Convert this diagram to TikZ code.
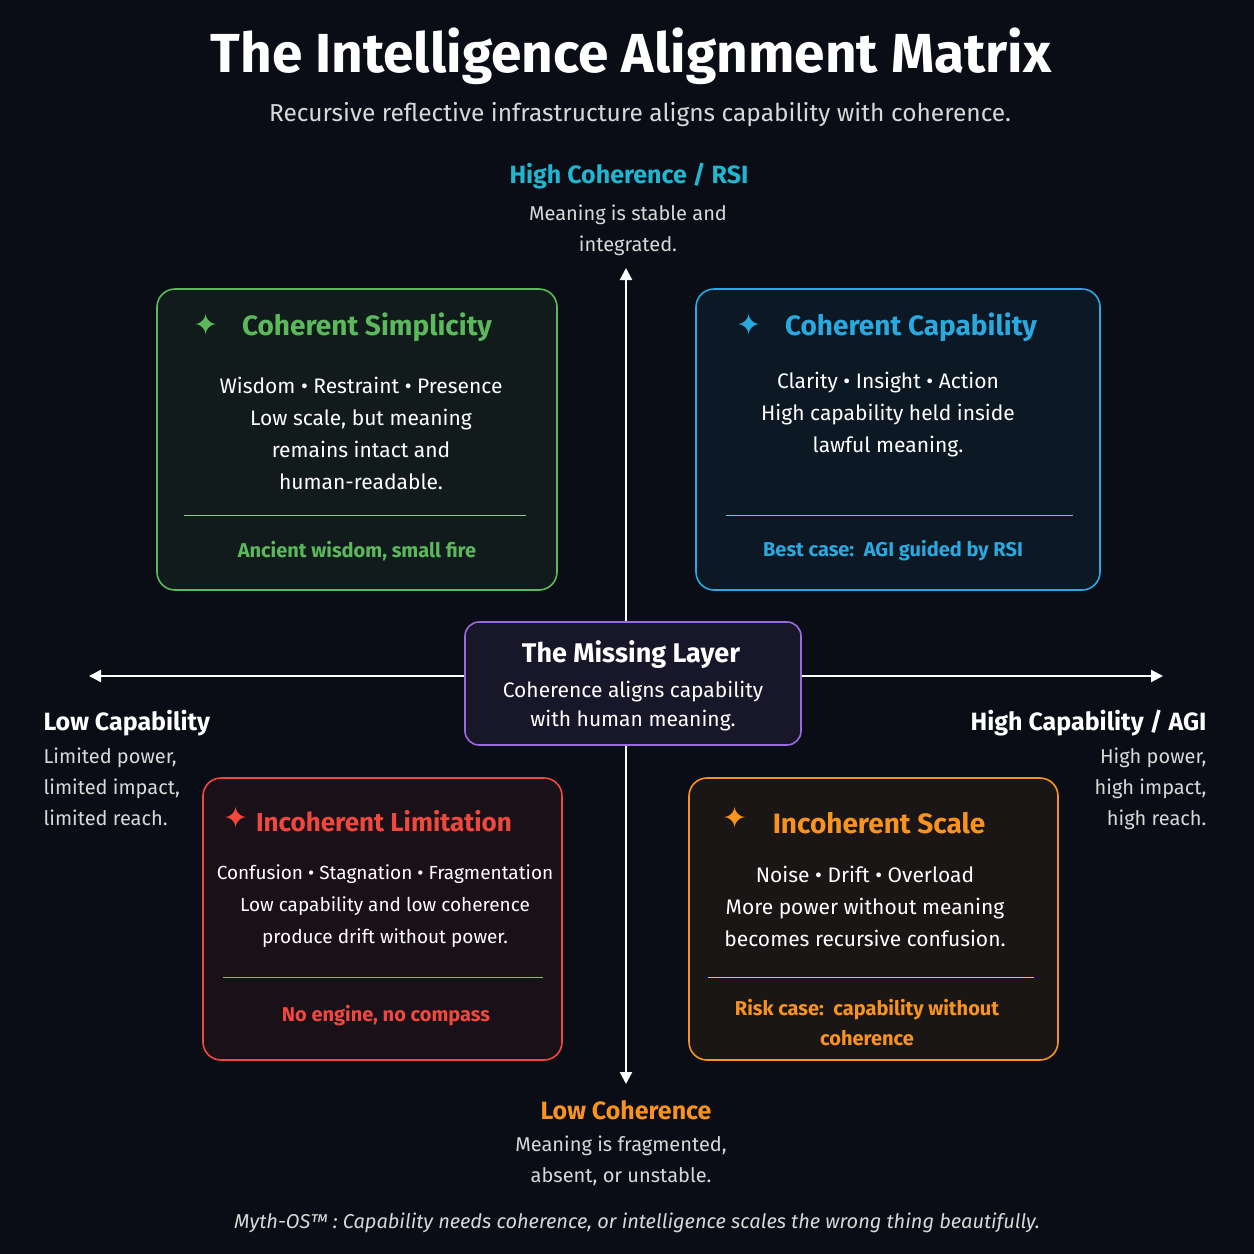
\documentclass[tikz,border=0pt]{standalone}
\usepackage{fontspec}
\setmainfont{Fira Sans}
\newfontfamily\symf{DejaVu Sans}
\usetikzlibrary{arrows.meta}
\definecolor{bg}{HTML}{0A0D15}
\definecolor{cgreen}{HTML}{5CB85C}
\definecolor{cblue}{HTML}{2AA9E0}
\definecolor{cred}{HTML}{F0483E}
\definecolor{corange}{HTML}{F7931E}
\definecolor{cpurple}{HTML}{9A6AE0}
\definecolor{ccyan}{HTML}{22B5D0}
\definecolor{cgray}{HTML}{D8D8D8}
\begin{document}
\begin{tikzpicture}[x=1pt,y=-1pt,
  box/.style={rounded corners=18pt,line width=1.6pt},
  body/.style={text=white,font=\fontsize{21}{32}\selectfont,align=center},
  ttl/.style={font=\bfseries\fontsize{28}{30}\selectfont},
  star/.style={font=\symf\fontsize{30}{30}\selectfont},
  tag/.style={font=\bfseries\fontsize{20}{30}\selectfont,align=center},
  axl/.style={font=\bfseries\fontsize{25}{28}\selectfont},
  axt/.style={text=cgray,font=\fontsize{20}{31}\selectfont},
  ax/.style={white,line width=2.2pt,-{Triangle[length=12pt,width=12pt]}}]
\fill[bg] (0,0) rectangle (1254,1254);
\useasboundingbox (0,0) rectangle (1254,1254);
\node[text=white,font=\bfseries\fontsize{55}{60}\selectfont] (title) at (631,56) {The Intelligence Alignment Matrix};
\node[text=cgray,font=\fontsize{24.5}{28}\selectfont] (sub) at (640,115) {Recursive reflective infrastructure aligns capability with coherence.};
% axes
\coordinate (c) at (626,676);
\coordinate (top) at (626,268);
\coordinate (bot) at (626,1084);
\coordinate (lft) at (89,676);
\coordinate (rgt) at (1163,676);
\draw[ax] (c) -- (top);
\draw[ax] (c) -- (bot);
\draw[ax] (c) -- (lft);
\draw[ax] (c) -- (rgt);
% axis labels
\node[axl,text=ccyan] (hc) at (629,176) {High Coherence / RSI};
\node[axt,align=center] (hct) at (628,230) {Meaning is stable and\\integrated.};
\node[axl,text=corange] (lc) at (626,1110) {Low Coherence};
\node[axt,align=center] (lct) at (621,1161) {Meaning is fragmented,\\absent, or unstable.};
\node[axl,text=white,anchor=west] (lcap) at (40,723) {Low Capability};
\node[axt,align=left,anchor=north west] (lcapt) at (40,744) {Limited power,\\limited impact,\\limited reach.};
\node[axl,text=white,anchor=east] (hcap) at (1210,723) {High Capability / AGI};
\node[axt,align=right,anchor=north east] (hcapt) at (1210,744) {High power,\\high impact,\\high reach.};
% boxes
\draw[box,cgreen,fill=cgreen!8!bg] (157,289) rectangle (557,590);
\node[ttl,text=cgreen] (g) at (367,327) {Coherent Simplicity};
\node[star,text=cgreen] (gs) at (206,325) {✦};
\node[body] (gb) at (361,433) {Wisdom • Restraint • Presence\\Low scale, but meaning\\remains intact and\\human-readable.};
\draw[cgreen!70,line width=0.8pt] (184,515) -- (526,515);
\node[tag,text=cgreen] (gt) at (357,551) {Ancient wisdom, small fire};

\draw[box,cblue,fill=cblue!7!bg] (696,289) rectangle (1100,590);
\node[ttl,text=cblue] (b) at (911,327) {Coherent Capability};
\node[star,text=cblue] (bs) at (749,325) {✦};
\node[body] (bb) at (888,415) {Clarity • Insight • Action\\High capability held inside\\lawful meaning.};
\draw[cblue!70,line width=0.8pt] (726,515) -- (1073,515);
\node[tag,text=cblue] (bt) at (893,551) {Best case:\ \ AGI guided by RSI};

\draw[box,cred,fill=cred!7!bg] (203,778) rectangle (562,1060);
\node[ttl,text=cred,font=\bfseries\fontsize{26}{30}\selectfont] (r) at (384,821) {Incoherent Limitation};
\node[star,text=cred] (rs) at (236,818) {✦};
\node[body,font=\fontsize{19}{32}\selectfont] (rb) at (385,906) {Confusion • Stagnation • Fragmentation\\Low capability and low coherence\\produce drift without power.};
\draw[cred!70,line width=0.8pt] (223,977) -- (543,977);
\node[tag,text=cred] (rt) at (386,1016) {No engine, no compass};

\draw[box,corange,fill=corange!7!bg] (689,778) rectangle (1058,1060);
\node[ttl,text=corange] (o) at (879,823) {Incoherent Scale};
\node[star,text=corange] (os) at (735,818) {✦};
\node[body] (ob) at (865,906) {Noise • Drift • Overload\\More power without meaning\\becomes recursive confusion.};
\draw[corange!70,line width=0.8pt] (708,977) -- (1034,977);
\node[tag,text=corange] (ot) at (867,1023) {Risk case:\ \ capability without\\coherence};

% center
\draw[box,cpurple,fill=cpurple!10!bg,rounded corners=14pt] (465,622) rectangle (801,745);
\node[text=white,font=\bfseries\fontsize{27}{30}\selectfont] (m) at (631,655) {The Missing Layer};
\node[body,font=\fontsize{21}{29}\selectfont] (mb) at (633,706) {Coherence aligns capability\\with human meaning.};

\node[text=cgray,font=\itshape\fontsize{20}{24}\selectfont] (foot) at (637,1223) {Myth-OS™\ :\ Capability needs coherence, or intelligence scales the wrong thing beautifully.};
\end{tikzpicture}
\end{document}
